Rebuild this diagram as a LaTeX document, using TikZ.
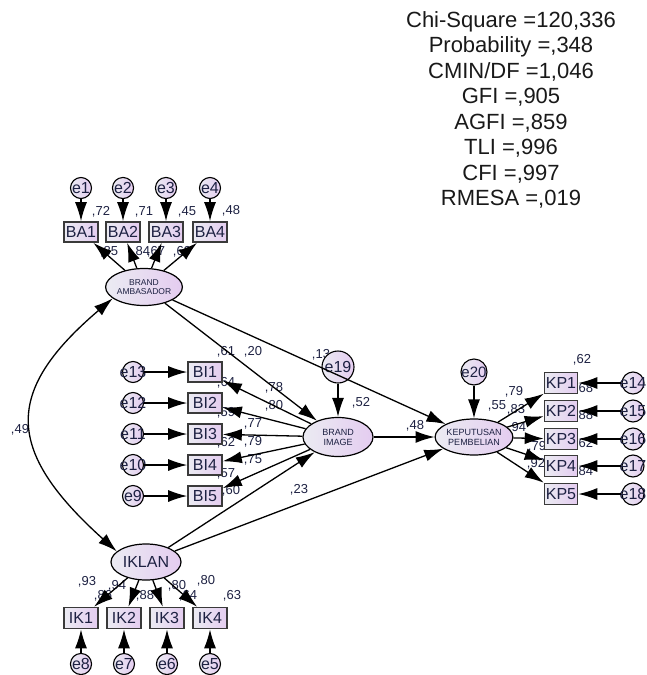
\documentclass[tikz,border=0pt]{standalone}
\usepackage{fontspec}
\setmainfont{Liberation Sans}
\usepackage{tikz}
\usetikzlibrary{arrows.meta,shapes.geometric}
\definecolor{semlight}{HTML}{EBEBF2}
\definecolor{semlilac}{HTML}{E4CCF0}
\definecolor{semink}{HTML}{1D2142}
\definecolor{semedge}{HTML}{3A3A3A}
\newcommand{\fs}[2]{\fontsize{#1}{#2}\selectfont}
\newcommand{\ovl}[1]{\makebox[0pt]{#1}}

\begin{document}
\begin{tikzpicture}[x=1pt,y=1pt,>={Latex[length=19pt,width=12pt]},
  obs/.style={rectangle,draw=semedge,line width=1.6pt,left color=semlight,right color=semlilac,
    minimum width=34pt,minimum height=20pt,inner sep=0pt,text=semink,font=\fs{16}{18}},
  lat/.style={ellipse,draw=black,line width=1.2pt,left color=semlight,right color=semlilac,
    inner sep=0pt,text=semink,align=center},
  err/.style={circle,draw=black,line width=1.1pt,left color=semlight,right color=semlilac,
    minimum size=21pt,inner sep=0pt,text=semink,font=\fs{16}{18}},
  val/.style={text=semink,font=\fs{13}{14},inner sep=0pt},
  reg/.style={->,line width=1.3pt},
  cov/.style={<->,line width=1.3pt}]
  \useasboundingbox (0,0) rectangle (646,-675);

  % fit indices
  \node[font=\fs{22}{25.5},align=center,text=black!90] (fit) at (511,-110)
    {Chi-Square =120,336\\Probability =,348\\CMIN/DF =1,046\\GFI =,905\\AGFI =,859\\TLI =,996\\CFI =,997\\RMESA =,019};

  % estimates
  \foreach \x/\y/\t [count=\i] in {101/212/{,72},144/212/{,71},187/212/{,45},231/211/{,48},
      109/252/{,85},141/252/{,84},156/252/{,67},182/252/{,69},
      226/352/{,61},253/352/{,20},321/355/{,13},226/383/{,64},274/388/{,78},274/406/{,80},
      226/413/{,59},253/424/{,77},226/443/{,62},253/442/{,79},253/460/{,75},226/474/{,57},
      231/491/{,60},299/490/{,23},415/426/{,48},361/403/{,52},20/430/{,49},
      582/360/{,62},514/392/{,79},497/406/{,55},516/410/{,83},584/389/{,68},517/428/{,94},
      584/416/{,88},537/447/{,79},584/444/{,62},536/464/{,92},584/472/{,84},
      87/582/{,93},103/596/{,86},117/586/{,94},145/596/{,88},177/586/{,80},188/596/{,64},
      206/581/{,80},232/596/{,63}}
    \node[val] (v\i) at (\x,-\y) {\t};

  % latent variables
  \node[lat,minimum width=68pt,minimum height=37pt,font=\fs{8.5}{9.5}] (BAm) at (144,-287) {BRAND\\AMBASADOR};
  \node[lat,minimum width=70pt,minimum height=39pt,font=\fs{9}{10}] (BIm) at (338,-437) {BRAND\\IMAGE};
  \node[lat,minimum width=67pt,minimum height=36pt,font=\fs{9}{10}] (KPm) at (474,-437) {KEPUTUSAN\\PEMBELIAN};
  \node[lat,minimum width=70pt,minimum height=36pt,font=\fs{16}{18}] (IKm) at (146,-562) {IKLAN};
  \node[err,minimum size=32pt] (e19) at (338,-367) {\ovl{e19}};
  \node[err,minimum size=26pt,font=\fs{15}{17}] (e20) at (474,-372) {\ovl{e20}};

  % indicators
  \foreach \n/\x in {1/81,2/123,3/166,4/210}{
    \node[obs] (BA\n) at (\x,-232) {BA\n};
    \node[err] (e\n) at (\x,-188) {e\n};
    \draw[reg] (e\n) -- (BA\n);
    \draw[reg] (BAm) -- (BA\n);
  }
  \foreach \n/\y/\e in {1/372/13,2/403/12,3/434/11,4/465/10,5/496/9}{
    \node[obs] (BI\n) at (205,-\y) {BI\n};
    \node[err] (e\e) at (133,-\y) {\ovl{e\e}};
    \draw[reg] (e\e) -- (BI\n);
    \draw[reg] (BIm) -- (BI\n);
  }
  \foreach \n/\y/\e in {1/383/14,2/411/15,3/439/16,4/466/17,5/494/18}{
    \node[obs,minimum width=33pt,minimum height=21pt] (KP\n) at (561,-\y) {KP\n};
    \node[err,minimum size=22pt] (e\e) at (633,-\y) {\ovl{e\e}};
    \draw[reg] (e\e) -- (KP\n);
    \draw[reg] (KPm) -- (KP\n);
  }
  \foreach \n/\x/\e in {1/81/8,2/124/7,3/167/6,4/210/5}{
    \node[obs,minimum height=21pt] (IK\n) at (\x,-618) {IK\n};
    \node[err] (e\e) at (\x,-664) {e\e};
    \draw[reg] (e\e) -- (IK\n);
    \draw[reg] (IKm) -- (IK\n);
  }

  % structural paths
  \draw[reg] (BAm) -- (BIm);
  \draw[reg] (BAm) -- (KPm);
  \draw[reg] (IKm) -- (BIm);
  \draw[reg] (IKm) -- (KPm);
  \draw[reg] (BIm) -- (KPm);
  \draw[reg] (e19) -- (BIm);
  \draw[reg] (e20) -- (KPm);
  \draw[cov] (BAm.200) .. controls (4,-391) and (4,-450) .. (IKm.160);
\end{tikzpicture}
\end{document}
